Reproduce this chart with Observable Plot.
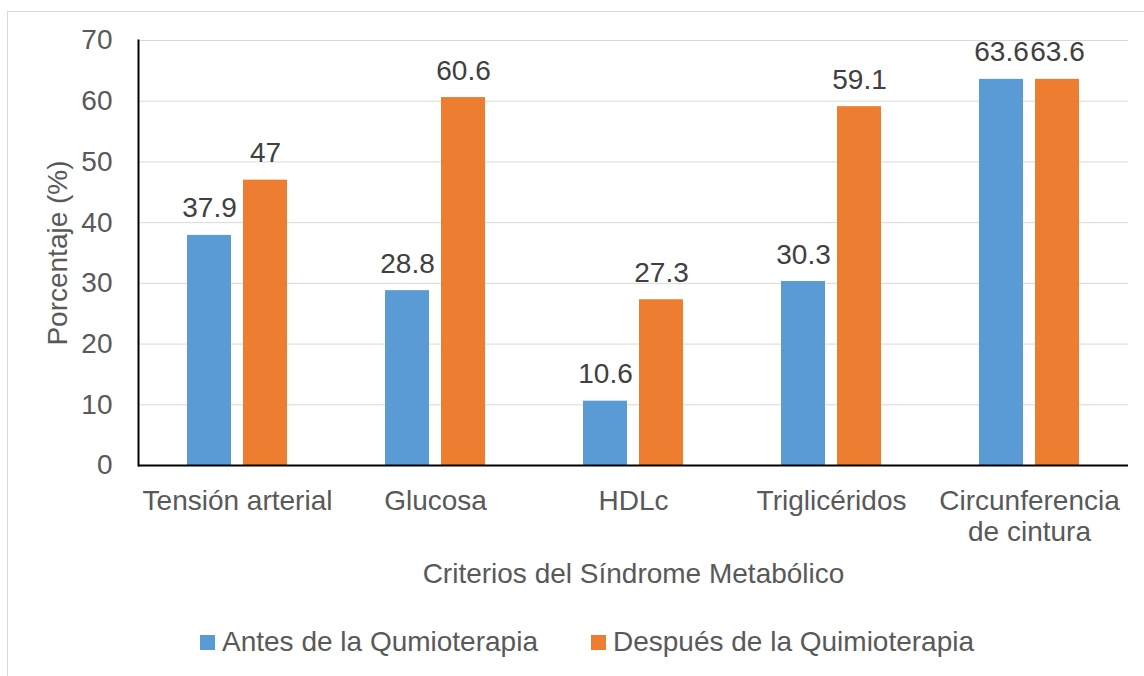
<!DOCTYPE html>
<html>
<head>
<meta charset="utf-8">
<script src="https://cdn.jsdelivr.net/npm/d3@7"></script>
<script src="https://cdn.jsdelivr.net/npm/@observablehq/plot@0.6"></script>
<style>
  html, body { margin: 0; padding: 0; background: #fff; }
  #wrap { position: relative; width: 1144px; height: 676px; overflow: hidden; font-family: "Liberation Sans", Arial, sans-serif; }
  #border { position: absolute; left: 7px; top: 11px; width: 1200px; height: 720px; border: 1px solid #d9d9d9; box-sizing: border-box; }
  #chart { position: absolute; left: 0; top: 0; }
  #legend { position: absolute; left: 200px; top: 627px; height: 30px; display: flex; align-items: center; font-size: 28px; color: #595959; white-space: nowrap; }
  .item { display: flex; align-items: center; margin-right: 53px; }
  .sw { width: 15px; height: 15px; margin-right: 7px; }
</style>
</head>
<body>
<div id="wrap">
  <div id="border"></div>
  <div id="chart"></div>
  <div id="legend"></div>
</div>
<script>
const categories = ["Tensión arterial", "Glucosa", "HDLc", "Triglicéridos", "Circunferencia de cintura"];
const categoryTickLabels = ["Tensión arterial", "Glucosa", "HDLc", "Triglicéridos", "Circunferencia\nde cintura"];
const series = ["Antes de la Qumioterapia", "Después de la Quimioterapia"];
const antes = [37.9, 28.8, 10.6, 30.3, 63.6];
const despues = [47, 60.6, 27.3, 59.1, 63.6];
const yTicks = [0, 10, 20, 30, 40, 50, 60, 70];
const colors = ["#5B9BD5", "#ED7D31"];

const data = categories.flatMap((c, i) => [
  {cat: c, serie: series[0], value: antes[i]},
  {cat: c, serie: series[1], value: despues[i]}
]);

const chart = Plot.plot({
  width: 1144,
  height: 605,
  marginTop: 40,
  marginLeft: 136,
  marginRight: 15,
  marginBottom: 140,
  style: {fontFamily: "'Liberation Sans', Arial, sans-serif", fontSize: "28px", color: "#595959", background: "transparent"},
  fx: {domain: categories, padding: 0, axis: null, label: null},
  x: {domain: series, axis: null, paddingInner: 0.2105, paddingOuter: 0.847},
  y: {domain: [0, 70], axis: null},
  color: {domain: series, range: colors},
  marks: [
    Plot.gridY(yTicks, {stroke: "#d9d9d9", strokeOpacity: 1, strokeWidth: 1}),
    Plot.barY(data, {fx: "cat", x: "serie", y: "value", fill: "serie"}),
    Plot.text(data, {fx: "cat", x: "serie", y: "value", text: d => String(d.value), lineAnchor: "bottom", dy: -18, fill: "#404040", fontSize: 28}),
    Plot.ruleY([0], {stroke: "#000", strokeWidth: 2}),
    Plot.frame({anchor: "left", facetAnchor: "left", stroke: "#000", strokeWidth: 2}),
    Plot.axisY(yTicks, {anchor: "left", tickSize: 0, tickPadding: 26, color: "#595959", fontSize: 28,
      label: "Porcentaje (%)", labelAnchor: "center", labelOffset: 91, labelArrow: false}),
    Plot.axisFx({anchor: "bottom", tickSize: 0, tickPadding: 22, color: "#595959", fontSize: 28, lineHeight: 1.12,
      tickFormat: d => categoryTickLabels[categories.indexOf(d)],
      label: "Criterios del Síndrome Metabólico", labelAnchor: "center", labelOffset: 117, labelArrow: false})
  ]
});
document.getElementById("chart").appendChild(chart);

const legend = document.getElementById("legend");
series.forEach((s, i) => {
  const item = document.createElement("div");
  item.className = "item";
  const sw = document.createElement("span");
  sw.className = "sw";
  sw.style.background = colors[i];
  const t = document.createElement("span");
  t.textContent = s;
  item.appendChild(sw);
  item.appendChild(t);
  legend.appendChild(item);
});
</script>
</body>
</html>
